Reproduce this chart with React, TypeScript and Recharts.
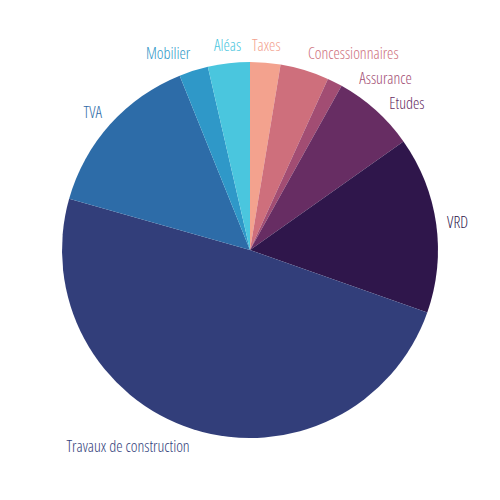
import React from 'react';
import { PieChart, Pie, Cell } from 'recharts';

// budget breakdown, share of total (%)
const categories = [
  'Taxes',
  'Concessionnaires',
  'Assurance',
  'Etudes',
  'VRD',
  'Travaux de construction',
  'TVA',
  'Mobilier',
  'Aléas',
];
const shares = [2.6, 4.2, 1.3, 7.1, 15.2, 49.0, 14.5, 2.5, 3.6];
const colors = [
  '#F3A28E',
  '#CE6F7C',
  '#A24D73',
  '#672D63',
  '#2F164B',
  '#323E7A',
  '#2D6CA8',
  '#2F98C8',
  '#4AC6DE',
];

const data = categories.map((name, i) => ({ name, value: shares[i] }));

const CX = 250;
const CY = 250;
const OUTER = 188;
const FONT_SIZE = 16;
const LINE_H = 22; // box height used when checking label collisions
const RADIAN = Math.PI / 180;

type Placed = { x: number; y: number; anchor: 'start' | 'end' | 'middle'; box: number[] };

// place a label at clockwise-from-top angle a (degrees)
const placeAt = (i: number, a: number): Placed => {
  const R = OUTER + 11;
  const sx = Math.sin(a * RADIAN);
  const sy = -Math.cos(a * RADIAN);
  const x = CX + R * sx;
  const y = CY + R * sy + 7 * sy;
  const w = categories[i].length * FONT_SIZE * 0.34;
  let anchor: 'start' | 'end' | 'middle' = 'middle';
  if (sx > 0.2) anchor = 'start';
  else if (sx < -0.2) anchor = 'end';
  const x0 = anchor === 'start' ? x : anchor === 'end' ? x - w : x - w / 2;
  return { x, y, anchor, box: [x0, y - LINE_H / 2, x0 + w, y + LINE_H / 2] };
};

const overlaps = (a: number[], b: number[]) =>
  a[0] < b[2] + 2 && b[0] < a[2] + 2 && a[1] < b[3] + 2 && b[1] < a[3] + 2;

// mid angles, then push labels apart along the circle when they collide
const total = shares.reduce((s, v) => s + v, 0);
const mids: number[] = [];
let acc = 0;
shares.forEach((v) => {
  mids.push(((acc + v / 2) / total) * 360);
  acc += v;
});
const placed: Placed[] = new Array(categories.length);
const rightSide = mids.map((m, i) => i).filter((i) => mids[i] < 180);
const leftSide = mids.map((m, i) => i).filter((i) => mids[i] >= 180).reverse();
[
  { order: rightSide, dir: 1 },
  { order: leftSide, dir: -1 },
].forEach(({ order, dir }) => {
  let prev: Placed | null = null;
  order.forEach((i) => {
    let a = mids[i];
    let p = placeAt(i, a);
    let guard = 0;
    while (prev && overlaps(p.box, prev.box) && guard < 80) {
      a += dir * 0.5;
      p = placeAt(i, a);
      guard++;
    }
    placed[i] = p;
    prev = p;
  });
});

// eslint-disable-next-line @typescript-eslint/no-explicit-any
const renderLabel = (props: any) => {
  const { index } = props;
  const p = placed[index];
  return (
    <text
      x={p.x}
      y={p.y}
      fill={colors[index]}
      textAnchor={p.anchor}
      dominantBaseline="central"
      style={{
        fontFamily: '"Open Sans", sans-serif',
        fontStretch: 'condensed',
        fontWeight: 300,
        fontSize: FONT_SIZE,
      }}
    >
      {categories[index]}
    </text>
  );
};

export default function App() {
  return (
    <div style={{ position: 'absolute', left: 0, top: 0, width: 500, height: 500, background: '#fff' }}>
      <PieChart width={500} height={500} margin={{ top: 0, right: 0, bottom: 0, left: 0 }}>
        <Pie
          data={data}
          dataKey="value"
          nameKey="name"
          cx={CX}
          cy={CY}
          outerRadius={OUTER}
          startAngle={90}
          endAngle={-270}
          stroke="none"
          label={renderLabel}
          labelLine={false}
          isAnimationActive={false}
        >
          {data.map((d, i) => (
            <Cell key={d.name} fill={colors[i]} />
          ))}
        </Pie>
      </PieChart>
    </div>
  );
}
